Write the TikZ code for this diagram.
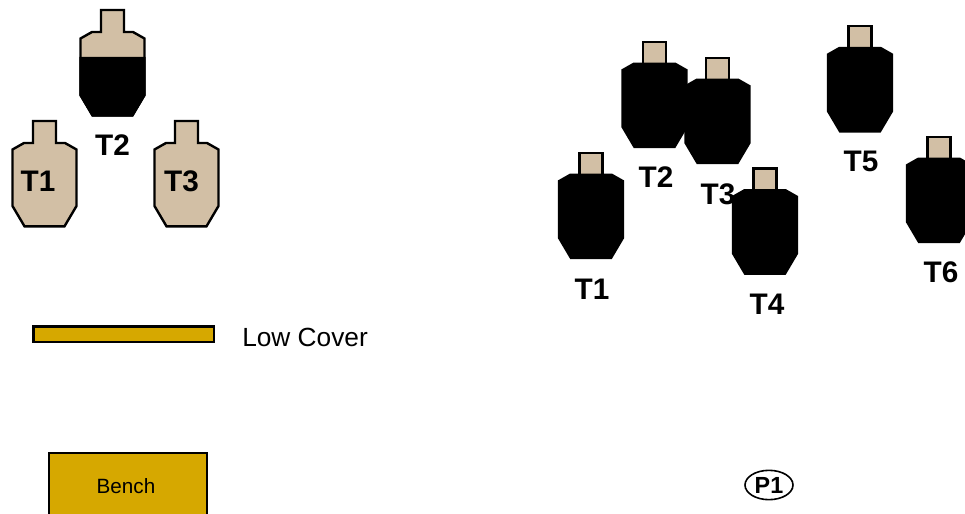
\documentclass[tikz,border=0pt]{standalone}
\usepackage{fontspec}
\setmainfont{Liberation Sans}
\usetikzlibrary{shapes.geometric}
\definecolor{tan}{HTML}{D2BFA5}
\definecolor{gold}{HTML}{D6A800}
\tikzset{
  x=0.75pt,y=-0.75pt,
  outline/.style={draw=black,line width=1.8pt,line join=miter},
  bigl/.style={font=\bfseries\fontsize{22.3}{24}\selectfont,inner sep=0pt,text=black},
  coverbox/.style={outline,fill=gold},
  pics/tanbody/.style={code={
    \path[outline,fill=tan] (-11.5,1)--(11.5,1)--(11.5,23)--(20.5,23)--(32,29.5)--(32,86)--(20,106.3)--(-20,106.3)--(-32,86)--(-32,29.5)--(-20.5,23)--(-11.5,23)--cycle;
  }},
  pics/blackbody/.style={code={
    \path[outline,fill=tan] (-11.5,1) rectangle (11.5,24);
    \path[outline,fill=black] (-11.5,23)--(11.5,23)--(20.5,23)--(32,29.5)--(32,86)--(20,106.3)--(-20,106.3)--(-32,86)--(-32,29.5)--(-20.5,23)--cycle;
  }},
  pics/halfbody/.style={code={
    \path[outline,fill=tan] (-11.5,1)--(11.5,1)--(11.5,23)--(20.5,23)--(32,29.5)--(32,86)--(20,106.3)--(-20,106.3)--(-32,86)--(-32,29.5)--(-20.5,23)--(-11.5,23)--cycle;
    \path[outline,fill=black] (-32,49)--(32,49)--(32,86)--(20,106.3)--(-20,106.3)--(-32,86)--cycle;
  }}
}
\begin{document}
\begin{tikzpicture}
\useasboundingbox (0,0) rectangle (965,514);
\clip (0,0) rectangle (965,514);
% left group
\pic at (112.5,9) {halfbody};
\pic at (44.5,120) {tanbody};
\pic at (186.5,120) {tanbody};
\node[bigl] (lt1) at (38,181.5) {T1};
\node[bigl] (lt2) at (112.5,145) {T2};
\node[bigl] (lt3) at (181.5,181.5) {T3};
% right group
\pic at (591,151.7) {blackbody};
\pic at (654.5,40.7) {blackbody};
\node[bigl] (rt3) at (718,194) {T3};
\pic at (717.5,56.7) {blackbody};
\pic at (765,167.3) {blackbody};
\pic at (860,25) {blackbody};
\pic at (939,135.7) {blackbody};
\node[bigl] (rt1) at (592,289) {T1};
\node[bigl] (rt2) at (656,177.5) {T2};
\node[bigl] (rt4) at (767,304.5) {T4};
\node[bigl] (rt5) at (861,161) {T5};
\node[bigl] (rt6) at (941,272.5) {T6};
% cover
\path[coverbox] (33.5,326.6) rectangle (213.7,341.8);
\node[anchor=west,inner sep=0pt,font=\fontsize{19.7}{22}\selectfont] (lc) at (242,337) {Low Cover};
\path[coverbox] (49,452.8) rectangle (206.8,530);
\node[inner sep=0pt,font=\fontsize{15.5}{18}\selectfont] (bench) at (126,485.7) {Bench};
% P1
\node[draw=black,line width=1.2pt,ellipse,minimum width=36pt,minimum height=22pt,inner sep=0pt,font=\bfseries\fontsize{17.5}{20}\selectfont] (p1) at (769,485) {P1};
\end{tikzpicture}
\end{document}
